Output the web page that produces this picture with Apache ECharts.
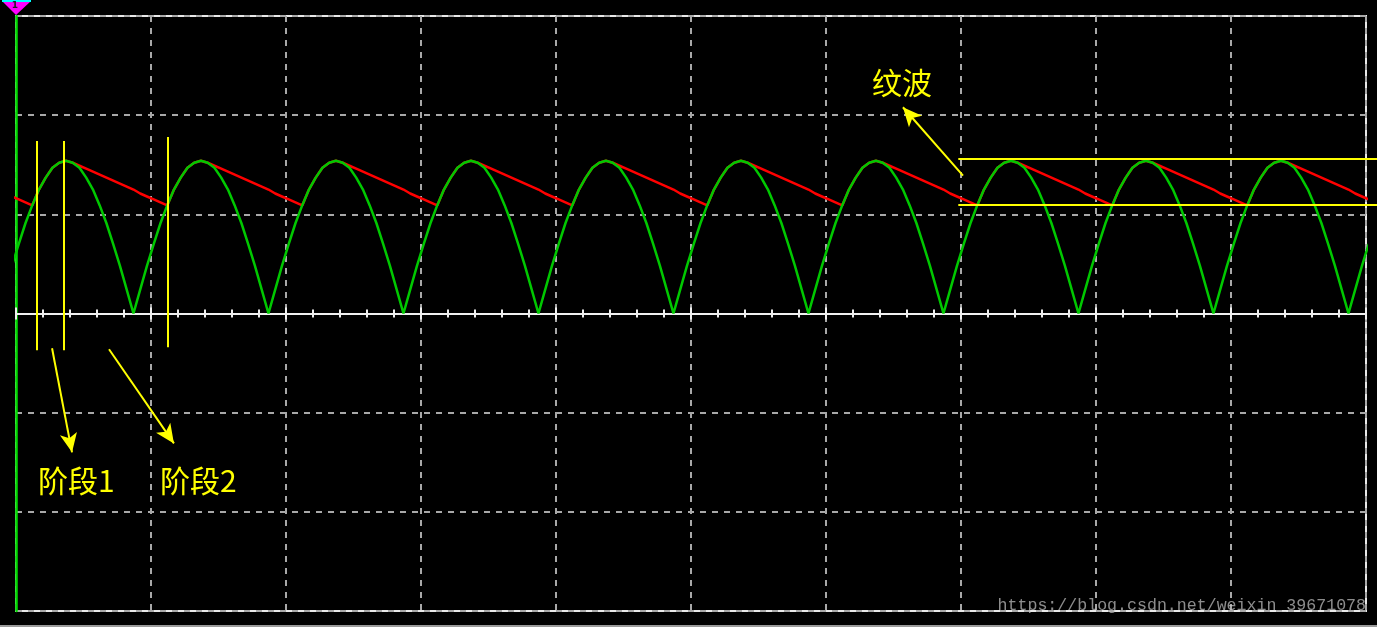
<!DOCTYPE html>
<html>
<head>
<meta charset="utf-8">
<script src="https://cdn.jsdelivr.net/npm/echarts@6/dist/echarts.min.js"></script>
<style>
html,body{margin:0;padding:0;background:#000;}
#c{width:1377px;height:627px;}
</style>
</head>
<body>
<div id="c"></div>
<script>
// time axis in ms, 10 ms per division; samples every 0.5 ms starting at -0.3 ms
const T_START = -0.3;
const T_STEP = 0.5;
const X_MIN = 0, X_MAX = 100, X_INTERVAL = 10;
const Y_MIN = -3, Y_MAX = 3, Y_INTERVAL = 1;

// full-wave rectified voltage (divisions)
const rectified = [
  0.48,0.70,0.91,1.09,1.25,1.37,1.47,1.52,1.54,1.52,1.47,1.37,1.25,1.09,0.91,0.70,0.48,0.24,
  0,0.24,0.48,0.70,0.91,1.09,1.25,1.37,1.47,1.52,1.54,1.52,1.47,1.37,1.25,1.09,0.91,0.70,0.48,0.24,
  0,0.24,0.48,0.70,0.91,1.09,1.25,1.37,1.47,1.52,1.54,1.52,1.47,1.37,1.25,1.09,0.91,0.70,0.48,0.24,
  0,0.24,0.48,0.70,0.91,1.09,1.25,1.37,1.47,1.52,1.54,1.52,1.47,1.37,1.25,1.09,0.91,0.70,0.48,0.24,
  0,0.24,0.48,0.70,0.91,1.09,1.25,1.37,1.47,1.52,1.54,1.52,1.47,1.37,1.25,1.09,0.91,0.70,0.48,0.24,
  0,0.24,0.48,0.70,0.91,1.09,1.25,1.37,1.47,1.52,1.54,1.52,1.47,1.37,1.25,1.09,0.91,0.70,0.48,0.24,
  0,0.24,0.48,0.70,0.91,1.09,1.25,1.37,1.47,1.52,1.54,1.52,1.47,1.37,1.25,1.09,0.91,0.70,0.48,0.24,
  0,0.24,0.48,0.70,0.91,1.09,1.25,1.37,1.47,1.52,1.54,1.52,1.47,1.37,1.25,1.09,0.91,0.70,0.48,0.24,
  0,0.24,0.48,0.70,0.91,1.09,1.25,1.37,1.47,1.52,1.54,1.52,1.47,1.37,1.25,1.09,0.91,0.70,0.48,0.24,
  0,0.24,0.48,0.70,0.91,1.09,1.25,1.37,1.47,1.52,1.54,1.52,1.47,1.37,1.25,1.09,0.91,0.70,0.48,0.24,
  0,0.24,0.48,0.70
];

// filtered (capacitor) voltage (divisions)
const capacitor = [
  1.18,1.15,1.12,1.09,1.25,1.37,1.47,1.52,1.54,1.52,1.49,1.46,1.43,1.40,1.37,1.34,1.31,1.28,
  1.25,1.21,1.18,1.15,1.12,1.09,1.25,1.37,1.47,1.52,1.54,1.52,1.49,1.46,1.43,1.40,1.37,1.34,1.31,1.28,
  1.25,1.21,1.18,1.15,1.12,1.09,1.25,1.37,1.47,1.52,1.54,1.52,1.49,1.46,1.43,1.40,1.37,1.34,1.31,1.28,
  1.25,1.21,1.18,1.15,1.12,1.09,1.25,1.37,1.47,1.52,1.54,1.52,1.49,1.46,1.43,1.40,1.37,1.34,1.31,1.28,
  1.25,1.21,1.18,1.15,1.12,1.09,1.25,1.37,1.47,1.52,1.54,1.52,1.49,1.46,1.43,1.40,1.37,1.34,1.31,1.28,
  1.25,1.21,1.18,1.15,1.12,1.09,1.25,1.37,1.47,1.52,1.54,1.52,1.49,1.46,1.43,1.40,1.37,1.34,1.31,1.28,
  1.25,1.21,1.18,1.15,1.12,1.09,1.25,1.37,1.47,1.52,1.54,1.52,1.49,1.46,1.43,1.40,1.37,1.34,1.31,1.28,
  1.25,1.21,1.18,1.15,1.12,1.09,1.25,1.37,1.47,1.52,1.54,1.52,1.49,1.46,1.43,1.40,1.37,1.34,1.31,1.28,
  1.25,1.21,1.18,1.15,1.12,1.09,1.25,1.37,1.47,1.52,1.54,1.52,1.49,1.46,1.43,1.40,1.37,1.34,1.31,1.28,
  1.25,1.21,1.18,1.15,1.12,1.09,1.25,1.37,1.47,1.52,1.54,1.52,1.49,1.46,1.43,1.40,1.37,1.34,1.31,1.28,
  1.25,1.21,1.18,1.15
];

// annotation segments in data units [t1, v1, t2, v2]
const markerLines = [
  [1.56, 1.74, 1.56, -0.37],
  [3.56, 1.74, 3.56, -0.37],
  [11.26, 1.78, 11.26, -0.34]
];
// ripple band: [t start, level]; runs to the right edge of the picture
const rippleLines = [[69.8, 1.56], [69.8, 1.09]];
const arrows = [
  [2.67, -0.35, 4.15, -1.40],
  [6.89, -0.36, 11.70, -1.31],
  [70.15, 1.39, 65.70, 2.08]
];
const labelTexts = ['阶段1', '阶段2', '纹波'];
const labelPos = [[1.63, -1.68], [10.67, -1.68], [63.4, 2.33]];
const watermark = 'https://blog.csdn.net/weixin_39671078';

const toPairs = vals => vals.map((v, i) => [+(T_START + i * T_STEP).toFixed(2), v]);

const YEL = '#ffff00';
const lineItems = markerLines.map(s => [
  {coord: [s[0], s[1]], symbol: 'none'},
  {coord: [s[2], s[3]], symbol: 'none'}
]).concat(arrows.map(s => [
  {coord: [s[0], s[1]], symbol: 'none'},
  {coord: [s[2], s[3]], symbol: 'arrow', symbolSize: [13, 19]}
]));

const W = 1377, H = 627;
const GRID = {left: 16, right: 11, top: 16, bottom: 16};
const centerOffset = -(H - GRID.top - GRID.bottom) / 2;

const chart = echarts.init(document.getElementById('c'), null, {renderer: 'canvas'});
const tickColor = '#f0f0f0';
const gridDash = {color: '#a8a8a8', width: 2, type: [6, 6]};

chart.setOption({
  backgroundColor: '#000000',
  animation: false,
  grid: Object.assign({show: true, borderColor: '#e8e8e8', borderWidth: 2,
         backgroundColor: 'transparent'}, GRID),
  xAxis: [
    {type: 'value', min: X_MIN, max: X_MAX, interval: X_INTERVAL, position: 'bottom',
     axisLine: {show: true, onZero: true, lineStyle: {color: tickColor, width: 2}},
     axisTick: {show: true, length: 6, lineStyle: {color: tickColor, width: 2}},
     minorTick: {show: true, splitNumber: 5, length: 4, lineStyle: {color: tickColor, width: 2}},
     axisLabel: {show: false},
     splitLine: {show: true, lineStyle: gridDash}},
    {type: 'value', min: X_MIN, max: X_MAX, interval: X_INTERVAL, position: 'top',
     offset: centerOffset,
     axisLine: {show: true, onZero: false, lineStyle: {color: tickColor, width: 2}},
     axisTick: {show: true, length: 6, lineStyle: {color: tickColor, width: 2}},
     minorTick: {show: true, splitNumber: 5, length: 4, lineStyle: {color: tickColor, width: 2}},
     axisLabel: {show: false},
     splitLine: {show: false}}
  ],
  yAxis: {type: 'value', min: Y_MIN, max: Y_MAX, interval: Y_INTERVAL,
    axisLine: {show: true, onZero: false, lineStyle: {color: '#00dc00', width: 2.5}},
    axisTick: {show: false}, axisLabel: {show: false},
    splitLine: {show: true, lineStyle: gridDash}},
  series: [
    {name: 'capacitor', type: 'line', data: toPairs(capacitor), symbol: 'none',
     lineStyle: {color: '#ff0000', width: 2.5}, z: 3, silent: true},
    {name: 'rectified', type: 'line', data: toPairs(rectified), symbol: 'none',
     lineStyle: {color: '#00c800', width: 2.5}, z: 4, silent: true},
    {name: 'annot', type: 'line', data: [[50, 0]], symbol: 'none', clip: false,
     lineStyle: {opacity: 0}, z: 5, silent: true,
     markLine: {silent: true, animation: false, symbol: 'none',
       lineStyle: {color: YEL, width: 2, type: 'solid'},
       itemStyle: {color: YEL},
       label: {show: false}, emphasis: {disabled: true},
       data: lineItems}}
  ]
});

const graphics = labelTexts.map((t, i) => {
  const p = chart.convertToPixel({gridIndex: 0}, labelPos[i]);
  return {type: 'text', x: p[0], y: p[1], z: 100, silent: true,
    style: {text: t, fill: YEL, font: '30px "Noto Sans CJK SC"', align: 'left',
            verticalAlign: 'middle', textVerticalAlign: 'middle'}};
});
rippleLines.forEach(r => {
  const p = chart.convertToPixel({gridIndex: 0}, r);
  const yy = Math.round(p[1]);
  graphics.push({type: 'line', z: 100, silent: true,
    shape: {x1: p[0], y1: yy, x2: W, y2: yy}, style: {stroke: YEL, lineWidth: 2}});
});
graphics.push({type: 'text', x: 1366, y: 606, z: 100, silent: true,
  style: {text: watermark, fill: 'rgba(200,200,200,0.7)', font: '16.6px "Liberation Mono"',
          align: 'right', verticalAlign: 'middle', textAlign: 'right', textVerticalAlign: 'middle'}});
graphics.push({type: 'polygon', z: 100, silent: true,
  shape: {points: [[2, 1], [31, 1], [16, 15]]}, style: {fill: '#ff00ff'}});
graphics.push({type: 'line', z: 101, silent: true,
  shape: {x1: 2, y1: 1, x2: 31, y2: 1}, style: {stroke: '#00ffff', lineWidth: 2}});
graphics.push({type: 'text', x: 15, y: 6, z: 102, silent: true,
  style: {text: '1', fill: '#202020', font: 'bold 9px "DejaVu Sans"', align: 'center',
          verticalAlign: 'middle', textAlign: 'center', textVerticalAlign: 'middle'}});
graphics.push({type: 'rect', z: 100, silent: true,
  shape: {x: 0, y: 625, width: W, height: 2}, style: {fill: '#9a9a9a'}});
chart.setOption({graphic: graphics});
</script>
</body>
</html>
